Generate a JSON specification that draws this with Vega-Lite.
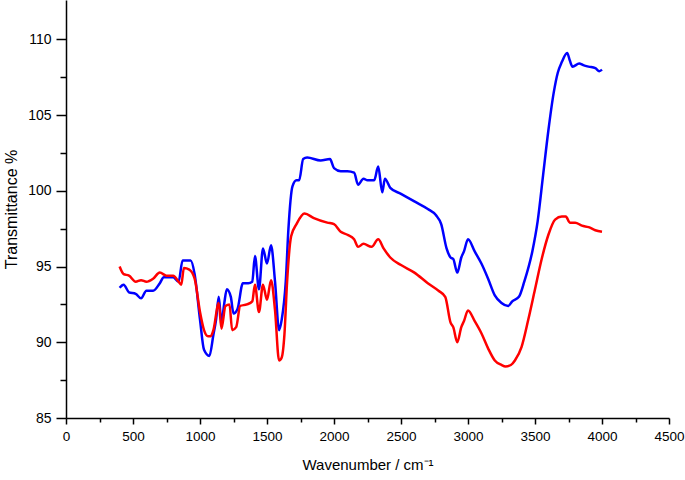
{
  "$schema": "https://vega.github.io/schema/vega-lite/v6.json",
  "width": 603,
  "height": 418,
  "autosize": {"type": "none"},
  "padding": {"left": 66, "top": 0, "right": 16, "bottom": 62},
  "background": "white",
  "config": {
    "view": {"stroke": null},
    "axis": {"labelFont": "Liberation Sans", "titleFont": "Liberation Sans", "labelColor": "#000", "titleColor": "#000", "domainColor": "#000", "tickColor": "#000", "grid": false, "titleFontWeight": "normal"}
  },
  "data": {"values": [
    {"wn":400,"T":93.6,"s":"B"},{"wn":430,"T":93.8,"s":"B"},{"wn":470,"T":93.3,"s":"B"},{"wn":520,"T":93.2,"s":"B"},{"wn":560,"T":92.9,"s":"B"},{"wn":600,"T":93.4,"s":"B"},{"wn":650,"T":93.4,"s":"B"},{"wn":700,"T":93.9,"s":"B"},{"wn":730,"T":94.3,"s":"B"},{"wn":800,"T":94.3,"s":"B"},{"wn":840,"T":94.0,"s":"B"},{"wn":870,"T":95.4,"s":"B"},{"wn":900,"T":95.4,"s":"B"},{"wn":930,"T":95.4,"s":"B"},{"wn":960,"T":94.5,"s":"B"},{"wn":1000,"T":91.5,"s":"B"},{"wn":1030,"T":89.5,"s":"B"},{"wn":1070,"T":89.1,"s":"B"},{"wn":1100,"T":90.5,"s":"B"},{"wn":1120,"T":91.5,"s":"B"},{"wn":1140,"T":93.0,"s":"B"},{"wn":1160,"T":91.3,"s":"B"},{"wn":1180,"T":92.5,"s":"B"},{"wn":1200,"T":93.5,"s":"B"},{"wn":1230,"T":93.0,"s":"B"},{"wn":1250,"T":91.9,"s":"B"},{"wn":1280,"T":92.2,"s":"B"},{"wn":1320,"T":93.9,"s":"B"},{"wn":1360,"T":93.9,"s":"B"},{"wn":1390,"T":94.0,"s":"B"},{"wn":1410,"T":95.7,"s":"B"},{"wn":1440,"T":93.5,"s":"B"},{"wn":1470,"T":96.2,"s":"B"},{"wn":1500,"T":95.2,"s":"B"},{"wn":1530,"T":96.4,"s":"B"},{"wn":1560,"T":94.0,"s":"B"},{"wn":1590,"T":90.8,"s":"B"},{"wn":1610,"T":91.5,"s":"B"},{"wn":1640,"T":94.0,"s":"B"},{"wn":1660,"T":97.5,"s":"B"},{"wn":1690,"T":100.3,"s":"B"},{"wn":1720,"T":100.7,"s":"B"},{"wn":1740,"T":100.7,"s":"B"},{"wn":1770,"T":102.1,"s":"B"},{"wn":1800,"T":102.2,"s":"B"},{"wn":1900,"T":102.0,"s":"B"},{"wn":1970,"T":102.1,"s":"B"},{"wn":2000,"T":101.5,"s":"B"},{"wn":2050,"T":101.3,"s":"B"},{"wn":2100,"T":101.3,"s":"B"},{"wn":2150,"T":101.2,"s":"B"},{"wn":2180,"T":100.4,"s":"B"},{"wn":2220,"T":100.8,"s":"B"},{"wn":2250,"T":100.7,"s":"B"},{"wn":2300,"T":100.7,"s":"B"},{"wn":2330,"T":101.6,"s":"B"},{"wn":2360,"T":99.9,"s":"B"},{"wn":2380,"T":100.8,"s":"B"},{"wn":2420,"T":100.2,"s":"B"},{"wn":2500,"T":99.8,"s":"B"},{"wn":2600,"T":99.3,"s":"B"},{"wn":2700,"T":98.8,"s":"B"},{"wn":2760,"T":98.4,"s":"B"},{"wn":2800,"T":97.8,"s":"B"},{"wn":2840,"T":96.2,"s":"B"},{"wn":2870,"T":95.6,"s":"B"},{"wn":2890,"T":95.5,"s":"B"},{"wn":2920,"T":94.6,"s":"B"},{"wn":2950,"T":95.6,"s":"B"},{"wn":2970,"T":96.0,"s":"B"},{"wn":3000,"T":96.8,"s":"B"},{"wn":3050,"T":96.0,"s":"B"},{"wn":3100,"T":95.2,"s":"B"},{"wn":3150,"T":94.2,"s":"B"},{"wn":3200,"T":93.1,"s":"B"},{"wn":3250,"T":92.6,"s":"B"},{"wn":3300,"T":92.4,"s":"B"},{"wn":3330,"T":92.7,"s":"B"},{"wn":3380,"T":93.0,"s":"B"},{"wn":3420,"T":94.0,"s":"B"},{"wn":3480,"T":96.0,"s":"B"},{"wn":3520,"T":98.0,"s":"B"},{"wn":3560,"T":101.0,"s":"B"},{"wn":3600,"T":104.0,"s":"B"},{"wn":3640,"T":106.5,"s":"B"},{"wn":3670,"T":107.8,"s":"B"},{"wn":3700,"T":108.5,"s":"B"},{"wn":3740,"T":109.1,"s":"B"},{"wn":3760,"T":108.6,"s":"B"},{"wn":3780,"T":108.2,"s":"B"},{"wn":3830,"T":108.4,"s":"B"},{"wn":3860,"T":108.3,"s":"B"},{"wn":3900,"T":108.2,"s":"B"},{"wn":3950,"T":108.1,"s":"B"},{"wn":3980,"T":107.9,"s":"B"},{"wn":4000,"T":108.0,"s":"B"},
    {"wn":400,"T":95.0,"s":"R"},{"wn":430,"T":94.5,"s":"R"},{"wn":470,"T":94.4,"s":"R"},{"wn":520,"T":94.0,"s":"R"},{"wn":560,"T":94.1,"s":"R"},{"wn":600,"T":94.0,"s":"R"},{"wn":650,"T":94.2,"s":"R"},{"wn":700,"T":94.6,"s":"R"},{"wn":750,"T":94.4,"s":"R"},{"wn":800,"T":94.4,"s":"R"},{"wn":840,"T":94.0,"s":"R"},{"wn":860,"T":93.8,"s":"R"},{"wn":880,"T":94.9,"s":"R"},{"wn":920,"T":94.8,"s":"R"},{"wn":960,"T":94.2,"s":"R"},{"wn":1000,"T":92.0,"s":"R"},{"wn":1030,"T":90.8,"s":"R"},{"wn":1060,"T":90.4,"s":"R"},{"wn":1080,"T":90.4,"s":"R"},{"wn":1100,"T":90.8,"s":"R"},{"wn":1140,"T":92.6,"s":"R"},{"wn":1160,"T":90.9,"s":"R"},{"wn":1190,"T":92.4,"s":"R"},{"wn":1220,"T":92.5,"s":"R"},{"wn":1240,"T":90.8,"s":"R"},{"wn":1270,"T":91.0,"s":"R"},{"wn":1300,"T":92.4,"s":"R"},{"wn":1350,"T":92.5,"s":"R"},{"wn":1390,"T":92.7,"s":"R"},{"wn":1410,"T":93.8,"s":"R"},{"wn":1440,"T":92.0,"s":"R"},{"wn":1470,"T":93.8,"s":"R"},{"wn":1500,"T":92.8,"s":"R"},{"wn":1530,"T":94.1,"s":"R"},{"wn":1560,"T":92.1,"s":"R"},{"wn":1590,"T":88.8,"s":"R"},{"wn":1610,"T":89.0,"s":"R"},{"wn":1630,"T":90.5,"s":"R"},{"wn":1650,"T":94.0,"s":"R"},{"wn":1680,"T":97.0,"s":"R"},{"wn":1720,"T":97.8,"s":"R"},{"wn":1780,"T":98.5,"s":"R"},{"wn":1850,"T":98.2,"s":"R"},{"wn":1950,"T":97.9,"s":"R"},{"wn":2000,"T":97.8,"s":"R"},{"wn":2050,"T":97.3,"s":"R"},{"wn":2100,"T":97.1,"s":"R"},{"wn":2150,"T":96.8,"s":"R"},{"wn":2180,"T":96.3,"s":"R"},{"wn":2220,"T":96.5,"s":"R"},{"wn":2280,"T":96.3,"s":"R"},{"wn":2330,"T":96.8,"s":"R"},{"wn":2370,"T":96.2,"s":"R"},{"wn":2420,"T":95.6,"s":"R"},{"wn":2500,"T":95.1,"s":"R"},{"wn":2600,"T":94.6,"s":"R"},{"wn":2700,"T":93.9,"s":"R"},{"wn":2780,"T":93.4,"s":"R"},{"wn":2830,"T":93.0,"s":"R"},{"wn":2870,"T":91.3,"s":"R"},{"wn":2890,"T":91.0,"s":"R"},{"wn":2920,"T":90.0,"s":"R"},{"wn":2950,"T":91.0,"s":"R"},{"wn":2970,"T":91.4,"s":"R"},{"wn":3000,"T":92.1,"s":"R"},{"wn":3050,"T":91.4,"s":"R"},{"wn":3100,"T":90.6,"s":"R"},{"wn":3150,"T":89.6,"s":"R"},{"wn":3200,"T":88.8,"s":"R"},{"wn":3250,"T":88.5,"s":"R"},{"wn":3280,"T":88.4,"s":"R"},{"wn":3320,"T":88.5,"s":"R"},{"wn":3350,"T":88.8,"s":"R"},{"wn":3400,"T":89.7,"s":"R"},{"wn":3450,"T":91.5,"s":"R"},{"wn":3500,"T":93.5,"s":"R"},{"wn":3550,"T":95.5,"s":"R"},{"wn":3600,"T":97.1,"s":"R"},{"wn":3650,"T":98.1,"s":"R"},{"wn":3700,"T":98.3,"s":"R"},{"wn":3730,"T":98.3,"s":"R"},{"wn":3760,"T":97.9,"s":"R"},{"wn":3800,"T":97.9,"s":"R"},{"wn":3850,"T":97.7,"s":"R"},{"wn":3900,"T":97.6,"s":"R"},{"wn":3950,"T":97.4,"s":"R"},{"wn":4000,"T":97.3,"s":"R"}
  ]},
  "layer": [
    {
      "mark": {"type": "line", "strokeWidth": 2.5, "interpolate": "monotone"},
      "encoding": {
        "x": {"field": "wn", "type": "quantitative", "scale": {"domain": [0, 4500], "nice": false},
          "axis": {"orient": "bottom", "values": [0,500,1000,1500,2000,2500,3000,3500,4000,4500], "format": "d", "title": "Wavenumber / cm⁻¹", "titleFontSize": 15, "labelFontSize": 13.5, "tickSize": 6, "tickWidth": 1.5, "domainWidth": 1.5, "labelPadding": 5, "titlePadding": 15, "labelFlush": false}},
        "y": {"field": "T", "type": "quantitative", "scale": {"domain": [85, 112.6], "nice": false, "zero": false},
          "axis": {"orient": "left", "values": [85,90,95,100,105,110], "format": "d", "title": "Transmittance %", "titleFontSize": 16, "labelFontSize": 14, "tickSize": 10, "tickWidth": 1.5, "domainWidth": 1.5, "labelPadding": 5, "titlePadding": 8, "labelFlush": false}},
        "color": {"field": "s", "type": "nominal", "scale": {"domain": ["B", "R"], "range": ["#0000ff", "#ff0000"]}, "legend": null}
      }
    },
    {
      "mark": {"type": "line", "opacity": 0},
      "encoding": {
        "x": {"field": "wn", "type": "quantitative", "scale": {"domain": [0, 4500], "nice": false},
          "axis": {"orient": "bottom", "values": [250,750,1250,1750,2250,2750,3250,3750,4250], "labels": false, "title": null, "tickSize": 4, "tickWidth": 1.5, "domain": false}},
        "y": {"field": "T", "type": "quantitative", "scale": {"domain": [85, 112.6], "nice": false, "zero": false},
          "axis": {"orient": "left", "values": [87.5,92.5,97.5,102.5,107.5], "labels": false, "title": null, "tickSize": 6, "tickWidth": 1.5, "domain": false}},
        "detail": {"field": "s"}
      }
    }
  ],
  "resolve": {"axis": {"x": "independent", "y": "independent"}}
}
